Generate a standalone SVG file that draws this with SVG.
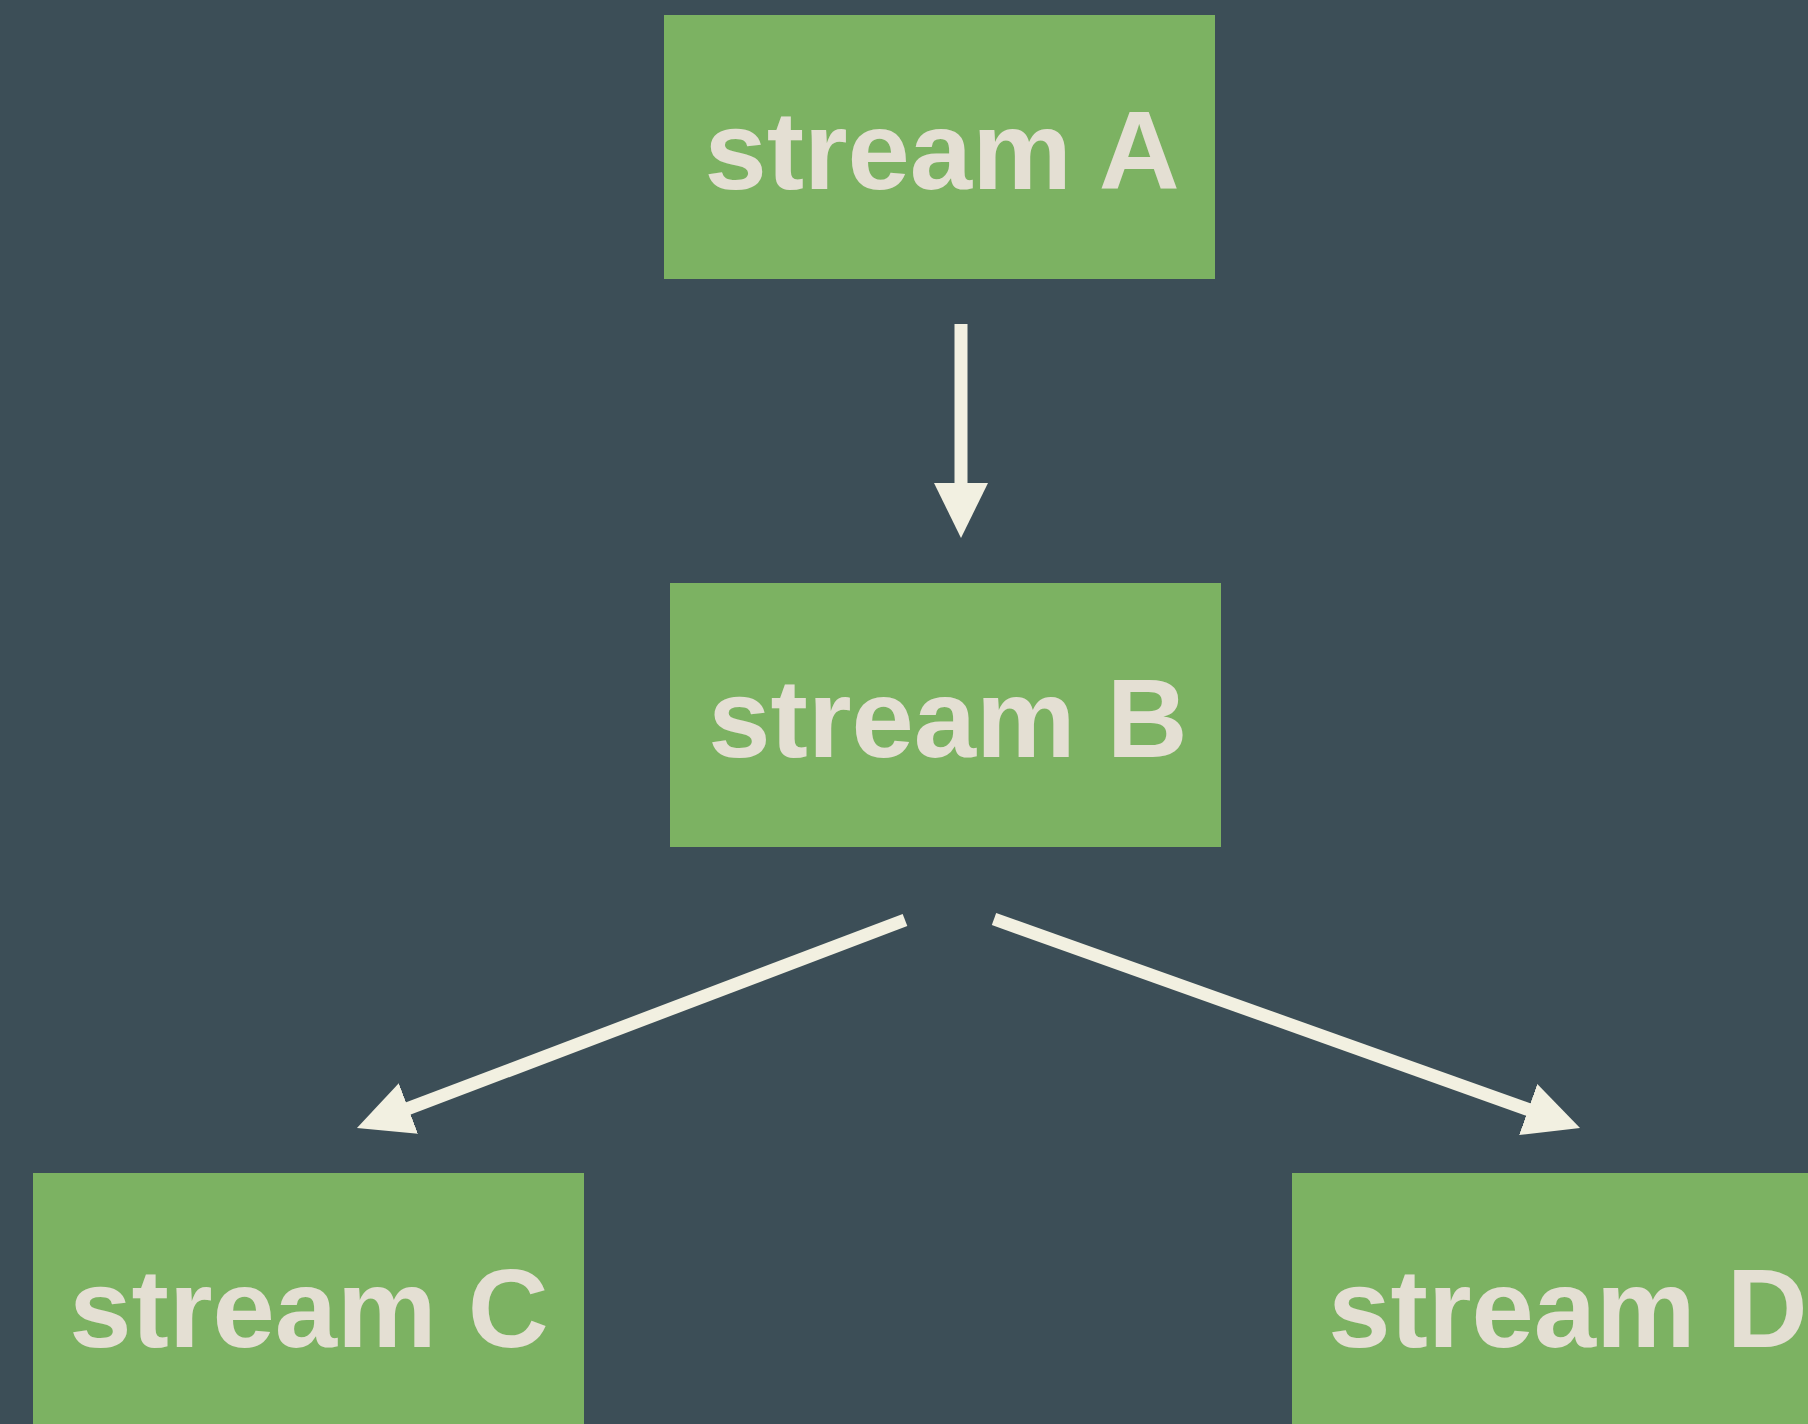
<svg xmlns="http://www.w3.org/2000/svg" width="1808" height="1424" viewBox="0 0 1808 1424">
  <style>
    .box { fill: #7CB262; }
    .label { font-family: "Liberation Sans", Arial, sans-serif; font-weight: bold; font-size: 112px; fill: #E4DFD3; text-anchor: middle; }
    .edge { stroke: #F2F0E1; stroke-width: 13; fill: none; marker-end: url(#head); }
  </style>
  <defs>
    <marker id="head" markerUnits="userSpaceOnUse" markerWidth="56" markerHeight="56" refX="2" refY="27" orient="auto" viewBox="0 0 56 54">
      <path d="M0,0 L55,27 L0,54 Z" fill="#F2F0E1"/>
    </marker>
  </defs>
  <rect x="0" y="0" width="1808" height="1424" fill="#3C4E57"/>
  <g id="connectors">
    <line class="edge" x1="961" y1="324" x2="961" y2="485"/>
    <line class="edge" x1="905" y1="920" x2="406.5" y2="1109.2"/>
    <line class="edge" x1="994" y1="919" x2="1530.1" y2="1110.2"/>
  </g>
  <g id="streamA">
    <rect class="box" x="664" y="15" width="551" height="264"/>
    <text class="label" x="942" y="189">stream A</text>
  </g>
  <g id="streamB">
    <rect class="box" x="670" y="583" width="551" height="264"/>
    <text class="label" x="948" y="757">stream B</text>
  </g>
  <g id="streamC">
    <rect class="box" x="33" y="1173" width="551" height="264"/>
    <text class="label" x="309" y="1347">stream C</text>
  </g>
  <g id="streamD">
    <rect class="box" x="1292" y="1173" width="551" height="264"/>
    <text class="label" x="1568" y="1347">stream D</text>
  </g>
</svg>
